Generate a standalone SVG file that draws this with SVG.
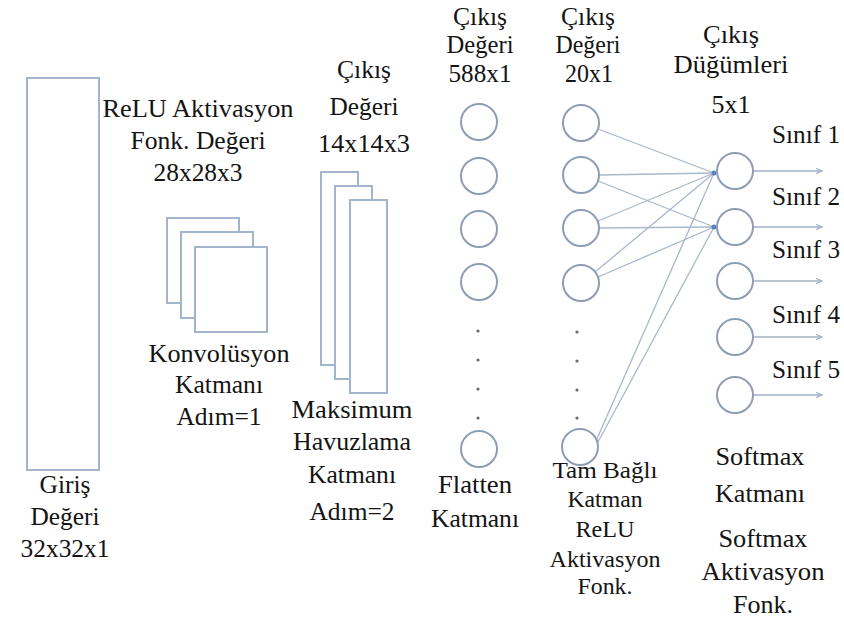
<svg xmlns="http://www.w3.org/2000/svg" width="844" height="621" viewBox="0 0 844 621">
  <style>
    .lbl { font-family: 'Liberation Serif', 'Times New Roman', 'DejaVu Serif', serif; font-size: 25px; fill: #141414; text-anchor: middle; }
    .small { font-size: 23px; }
    .sheet { fill: #ffffff; stroke: #a3b5cc; stroke-width: 2; }
    .node { fill: #ffffff; stroke: #8d9eb3; stroke-width: 2; }
    .dot { fill: #6b6b6b; }
    .edge { stroke: #a9b8c9; stroke-width: 1.3; fill: none; }
    .out { stroke: #a4b2c2; stroke-width: 1.6; fill: none; marker-end: url(#tip); }
    .hub { fill: #5a80c4; }
  </style>
  <defs>
    <marker id="tip" viewBox="0 0 10 10" refX="9" refY="5" markerWidth="7" markerHeight="7" markerUnits="userSpaceOnUse" orient="auto">
      <path d="M0,1 L9,5 L0,9" fill="none" stroke="#a4b2c2" stroke-width="1.6"/>
    </marker>
  </defs>
  <rect width="844" height="621" fill="#ffffff"/>

  <g class="lbl">
  <!-- input layer -->
  <g id="input">
    <rect class="sheet" x="27" y="78" width="72" height="392"/>
    <text x="65" y="493" textLength="51" lengthAdjust="spacingAndGlyphs">Giriş</text>
    <text x="65" y="525" textLength="69" lengthAdjust="spacingAndGlyphs">Değeri</text>
    <text x="65" y="557" textLength="89" lengthAdjust="spacingAndGlyphs">32x32x1</text>
  </g>

  <!-- convolution layer -->
  <g id="conv">
    <text x="198" y="117" textLength="191" lengthAdjust="spacingAndGlyphs">ReLU Aktivasyon</text>
    <text x="198" y="149" textLength="135" lengthAdjust="spacingAndGlyphs">Fonk. Değeri</text>
    <text x="198" y="181" textLength="89" lengthAdjust="spacingAndGlyphs">28x28x3</text>
    <rect class="sheet" x="167" y="218" width="72" height="85"/>
    <rect class="sheet" x="181" y="232" width="72" height="86"/>
    <rect class="sheet" x="195" y="247" width="72" height="85"/>
    <text x="219" y="362" textLength="141" lengthAdjust="spacingAndGlyphs">Konvolüsyon</text>
    <text x="219" y="393" textLength="88" lengthAdjust="spacingAndGlyphs">Katmanı</text>
    <text x="219" y="425" textLength="85" lengthAdjust="spacingAndGlyphs">Adım=1</text>
  </g>

  <!-- max pooling layer -->
  <g id="pool">
    <text x="364" y="78" textLength="54" lengthAdjust="spacingAndGlyphs">Çıkış</text>
    <text x="364" y="115" textLength="69" lengthAdjust="spacingAndGlyphs">Değeri</text>
    <text x="364" y="152" textLength="92" lengthAdjust="spacingAndGlyphs">14x14x3</text>
    <rect class="sheet" x="321" y="172" width="37" height="193"/>
    <rect class="sheet" x="335" y="186" width="37" height="193"/>
    <rect class="sheet" x="350" y="200" width="37" height="193"/>
    <text x="352" y="418" textLength="121" lengthAdjust="spacingAndGlyphs">Maksimum</text>
    <text x="352" y="450" textLength="118" lengthAdjust="spacingAndGlyphs">Havuzlama</text>
    <text x="352" y="483" textLength="88" lengthAdjust="spacingAndGlyphs">Katmanı</text>
    <text x="352" y="520" textLength="85" lengthAdjust="spacingAndGlyphs">Adım=2</text>
  </g>

  <!-- flatten layer -->
  <g id="flatten">
    <text x="480" y="25" textLength="54" lengthAdjust="spacingAndGlyphs">Çıkış</text>
    <text x="480" y="53" textLength="67" lengthAdjust="spacingAndGlyphs">Değeri</text>
    <text x="480" y="82" textLength="63" lengthAdjust="spacingAndGlyphs">588x1</text>
    <circle class="node" cx="479" cy="122" r="18"/>
    <circle class="node" cx="479" cy="176" r="18"/>
    <circle class="node" cx="479" cy="229" r="18"/>
    <circle class="node" cx="479" cy="282" r="18"/>
    <circle class="dot" cx="478" cy="331" r="1.6"/>
    <circle class="dot" cx="478" cy="360" r="1.6"/>
    <circle class="dot" cx="478" cy="389" r="1.6"/>
    <circle class="dot" cx="478" cy="418" r="1.6"/>
    <circle class="node" cx="479" cy="449" r="18"/>
    <text x="475" y="493" textLength="74" lengthAdjust="spacingAndGlyphs">Flatten</text>
    <text x="475" y="527" textLength="88" lengthAdjust="spacingAndGlyphs">Katmanı</text>
  </g>

  <!-- connectors: fully connected to softmax, softmax outputs -->
  <g id="connectors">
    <line class="edge" x1="598" y1="129" x2="714" y2="173"/>
    <line class="edge" x1="599" y1="175" x2="714" y2="173"/>
    <line class="edge" x1="598" y1="181" x2="714" y2="227"/>
    <line class="edge" x1="598" y1="221" x2="714" y2="173"/>
    <line class="edge" x1="599" y1="228" x2="714" y2="227"/>
    <line class="edge" x1="595" y1="272" x2="714" y2="173"/>
    <line class="edge" x1="598" y1="277" x2="714" y2="227"/>
    <line class="edge" x1="596" y1="441" x2="714" y2="173"/>
    <line class="edge" x1="598" y1="442" x2="714" y2="227"/>
    <circle class="hub" cx="714" cy="173" r="2.5"/>
    <circle class="hub" cx="714" cy="227" r="2.5"/>
    <line class="out" x1="753" y1="171" x2="822" y2="171"/>
    <line class="out" x1="753" y1="227" x2="822" y2="227"/>
    <line class="out" x1="753" y1="281" x2="822" y2="281"/>
    <line class="out" x1="753" y1="337" x2="822" y2="337"/>
    <line class="out" x1="753" y1="395" x2="822" y2="395"/>
  </g>

  <!-- fully connected layer -->
  <g id="dense">
    <text x="588" y="25" textLength="54" lengthAdjust="spacingAndGlyphs">Çıkış</text>
    <text x="588" y="53" textLength="65" lengthAdjust="spacingAndGlyphs">Değeri</text>
    <text x="589" y="82" textLength="48" lengthAdjust="spacingAndGlyphs">20x1</text>
    <circle class="node" cx="581" cy="123" r="18"/>
    <circle class="node" cx="581" cy="175" r="18"/>
    <circle class="node" cx="581" cy="228" r="18"/>
    <circle class="node" cx="581" cy="283" r="18"/>
    <circle class="dot" cx="577" cy="332" r="1.6"/>
    <circle class="dot" cx="577" cy="361" r="1.6"/>
    <circle class="dot" cx="577" cy="390" r="1.6"/>
    <circle class="dot" cx="577" cy="418" r="1.6"/>
    <circle class="node" cx="580" cy="447" r="18"/>
    <text class="small" x="605" y="478" textLength="105" lengthAdjust="spacingAndGlyphs">Tam Bağlı</text>
    <text class="small" x="605" y="507" textLength="75" lengthAdjust="spacingAndGlyphs">Katman</text>
    <text class="small" x="605" y="537" textLength="59" lengthAdjust="spacingAndGlyphs">ReLU</text>
    <text class="small" x="605" y="567" textLength="111" lengthAdjust="spacingAndGlyphs">Aktivasyon</text>
    <text class="small" x="605" y="594" textLength="55" lengthAdjust="spacingAndGlyphs">Fonk.</text>
  </g>

  <!-- softmax layer -->
  <g id="softmax">
    <text x="731" y="43" textLength="56" lengthAdjust="spacingAndGlyphs">Çıkış</text>
    <text x="731" y="73" textLength="115" lengthAdjust="spacingAndGlyphs">Düğümleri</text>
    <text x="731" y="113" textLength="39" lengthAdjust="spacingAndGlyphs">5x1</text>
    <circle class="node" cx="735" cy="171" r="18"/>
    <circle class="node" cx="735" cy="227" r="18"/>
    <circle class="node" cx="735" cy="281" r="18"/>
    <circle class="node" cx="735" cy="337" r="18"/>
    <circle class="node" cx="735" cy="395" r="18"/>
    <text x="760" y="465" textLength="89" lengthAdjust="spacingAndGlyphs">Softmax</text>
    <text x="760" y="502" textLength="90" lengthAdjust="spacingAndGlyphs">Katmanı</text>
    <text x="763" y="547" textLength="89" lengthAdjust="spacingAndGlyphs">Softmax</text>
    <text x="763" y="580" textLength="123" lengthAdjust="spacingAndGlyphs">Aktivasyon</text>
    <text x="763" y="613" textLength="60" lengthAdjust="spacingAndGlyphs">Fonk.</text>
  </g>

  <!-- class labels -->
  <g id="classes">
    <text x="806" y="143" textLength="68" lengthAdjust="spacingAndGlyphs">Sınıf 1</text>
    <text x="806" y="205" textLength="68" lengthAdjust="spacingAndGlyphs">Sınıf 2</text>
    <text x="806" y="258" textLength="68" lengthAdjust="spacingAndGlyphs">Sınıf 3</text>
    <text x="806" y="323" textLength="68" lengthAdjust="spacingAndGlyphs">Sınıf 4</text>
    <text x="806" y="378" textLength="68" lengthAdjust="spacingAndGlyphs">Sınıf 5</text>
  </g>
  </g>
</svg>
